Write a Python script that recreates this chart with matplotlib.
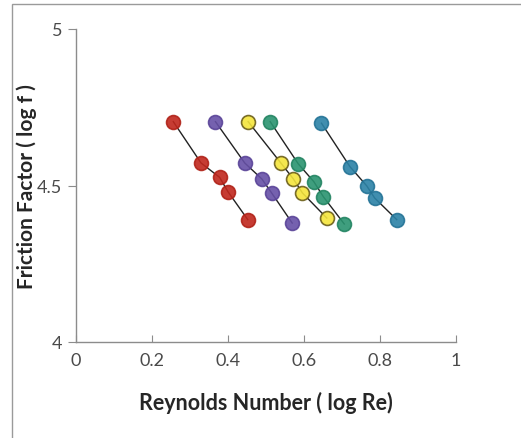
import matplotlib
matplotlib.use("Agg")
import matplotlib.pyplot as plt
from matplotlib.patches import Rectangle

# log Re / log f pairs for each test series
red_x = [0.256, 0.329, 0.378, 0.400, 0.452]
red_y = [4.704, 4.572, 4.526, 4.480, 4.391]

purple_x = [0.367, 0.444, 0.489, 0.515, 0.569]
purple_y = [4.704, 4.572, 4.521, 4.476, 4.380]

yellow_x = [0.453, 0.539, 0.572, 0.596, 0.660]
yellow_y = [4.704, 4.572, 4.521, 4.476, 4.396]

green_x = [0.511, 0.585, 0.626, 0.651, 0.706]
green_y = [4.704, 4.569, 4.512, 4.464, 4.377]

teal_x = [0.646, 0.721, 0.765, 0.786, 0.844]
teal_y = [4.699, 4.560, 4.499, 4.460, 4.391]

x_ticks = [0, 0.2, 0.4, 0.6, 0.8, 1]
x_tick_labels = ["0", "0.2", "0.4", "0.6", "0.8", "1"]
y_ticks = [4, 4.5, 5]
y_tick_labels = ["4", "4.5", "5"]

series = [
    (red_x, red_y, "#C0271D", "#B02218"),
    (purple_x, purple_y, "#6650A6", "#5A4498"),
    (yellow_x, yellow_y, "#F4E53C", "#6B5E1A"),
    (green_x, green_y, "#2A9470", "#238462"),
    (teal_x, teal_y, "#2B82A6", "#247396"),
]

plt.rcParams["font.family"] = ["Lato", "DejaVu Sans"]

fig = plt.figure(figsize=(5.21, 4.39), dpi=100)
fig.patch.set_facecolor("white")

# outer chart frame (continues past the right and bottom edges)
fig.patches.append(Rectangle((12 / 521, -0.5), 2.0, 1.5 - 5 / 439,
                             transform=fig.transFigure, fill=False,
                             edgecolor="#9A9A9A", linewidth=1.0))

ax = fig.add_axes([76 / 521, 1 - 343 / 439, (456 - 76) / 521, (343 - 30) / 439])

for xs, ys, face, edge in series:
    ax.plot(xs, ys, color="#222222", linewidth=1.0, zorder=2)
    ax.plot(xs, ys, linestyle="none", marker="o", markersize=10,
            markerfacecolor=face, markeredgecolor=edge, markeredgewidth=1.2,
            alpha=0.9, zorder=3)

ax.set_xlim(0, 1)
ax.set_ylim(4, 5)
ax.set_xticks(x_ticks)
ax.set_xticklabels(x_tick_labels)
ax.set_yticks(y_ticks)
ax.set_yticklabels(y_tick_labels)

for side in ("top", "right"):
    ax.spines[side].set_visible(False)
for side in ("left", "bottom"):
    ax.spines[side].set_color("#8C8C8C")
    ax.spines[side].set_linewidth(1.0)

ax.tick_params(axis="x", direction="in", length=5, color="#8C8C8C",
               labelsize=13, labelcolor="#4A4A4A", pad=7)
ax.tick_params(axis="y", direction="out", length=6, color="#8C8C8C",
               labelsize=13, labelcolor="#4A4A4A", pad=4)

xl = ax.set_xlabel("Reynolds Number ( log Re)", fontsize=15.5, fontweight="bold",
                   color="#262626")
yl = ax.set_ylabel("Friction Factor ( log f )", fontsize=15, fontweight="bold",
                   color="#262626")
xl.set_verticalalignment("center")
yl.set_verticalalignment("center")
ax.xaxis.set_label_coords(0.5, (343 - 403) / 313)
ax.yaxis.set_label_coords((27 - 76) / 380, 0.5)

fig.savefig("out.png", dpi=100, facecolor="white")
